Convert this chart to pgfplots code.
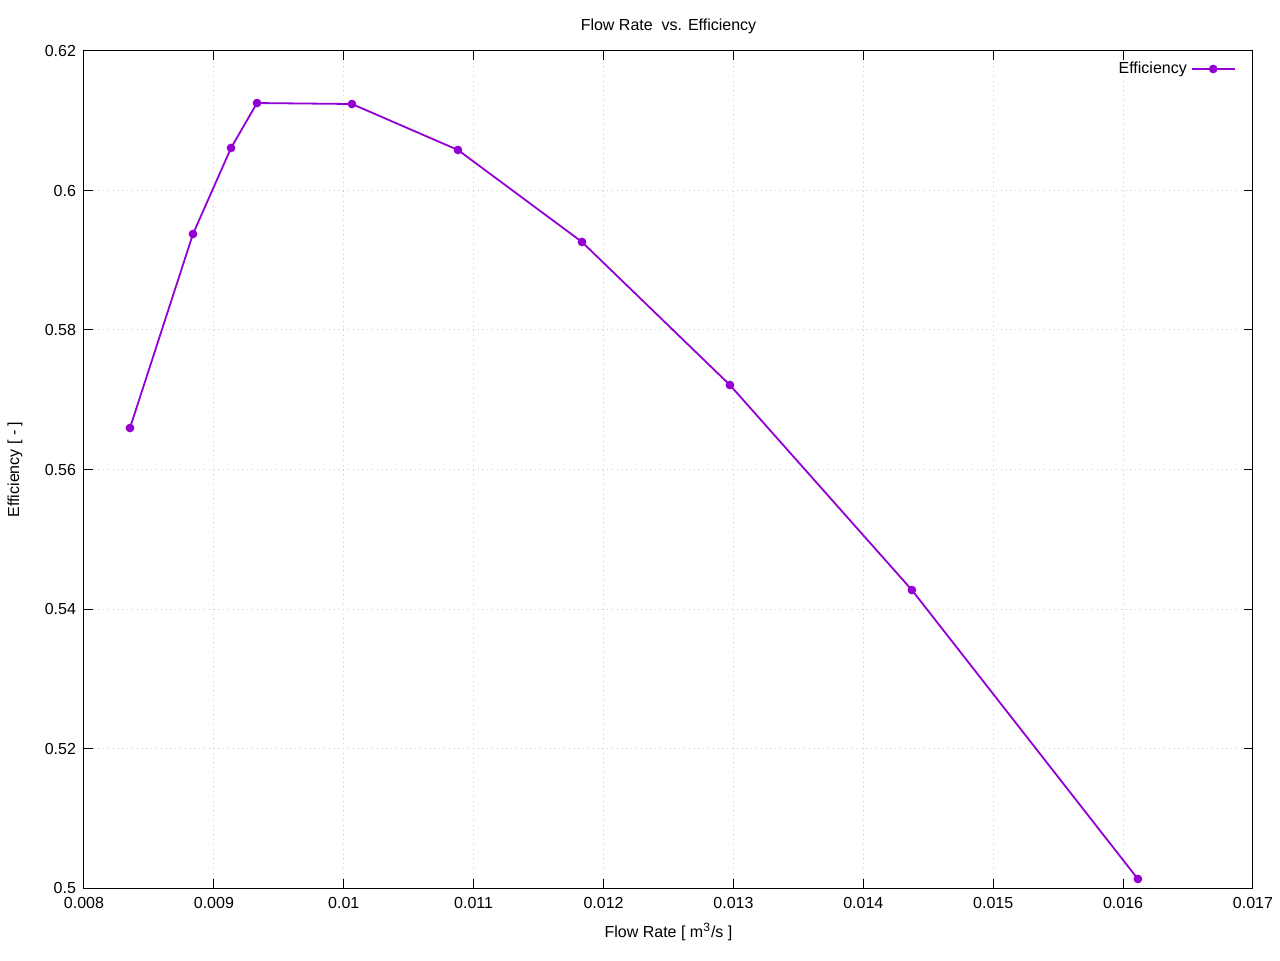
\documentclass[border=0pt]{standalone}
\usepackage{pgfplots}
\pgfplotsset{compat=1.18}
\usepackage{fontspec}
\setmainfont{Liberation Sans}
\definecolor{gpviolet}{HTML}{9400D3}
\begin{document}
\begin{tikzpicture}[x=1pt,y=1pt]
\path (0,0) rectangle (640,480);
\begin{axis}[
  at={(42pt,36pt)}, anchor=south west,
  scale only axis, width=584.5pt, height=418.5pt,
  xmin=0.008, xmax=0.017, ymin=0.5, ymax=0.62,
  xtick={0.008,0.009,0.010,0.011,0.012,0.013,0.014,0.015,0.016,0.017},
  xticklabels={0.008,0.009,0.01,0.011,0.012,0.013,0.014,0.015,0.016,0.017},
  ytick={0.5,0.52,0.54,0.56,0.58,0.6,0.62},
  yticklabels={0.5,0.52,0.54,0.56,0.58,0.6,0.62},
  scaled ticks=false,
  tick align=inside, tick pos=both,
  major tick length=4.5pt,
  every tick/.style={black, line width=0.5pt},
  axis line style={black, line width=0.5pt},
  grid=major,
  major grid style={gray!40, dotted, line width=0.5pt},
  tick label style={font=\fontsize{8}{9}\selectfont},
  xticklabel style={yshift=-1pt},
  yticklabel style={xshift=-0.5pt},
  label style={font=\fontsize{8}{9}\selectfont},
  every axis title shift=0pt,
  title style={font=\fontsize{8}{9}\selectfont, at={(axis description cs:0.5,1.0299)}, anchor=center},
  title={Flow Rate\ \ vs. Efficiency},
  xlabel={Flow Rate [ m\textsuperscript{3}/s ]},
  ylabel={Efficiency [ - ]},
  xlabel style={at={(axis description cs:0.5,-0.0526)}, anchor=center},
  ylabel style={at={(axis description cs:-0.059,0.5)}, anchor=center},
  legend style={draw=none, fill=none, font=\fontsize{8}{9}\selectfont, at={(axis description cs:0.9855,0.9785)}, anchor=east, inner sep=0pt},
  legend cell align=right,
  legend plot pos=right,
  legend image code/.code={\draw[mark repeat=2,mark phase=2,#1] plot coordinates {(0pt,0pt) (10.75pt,0pt) (21.5pt,0pt)};},
]
\addplot[gpviolet, line width=0.9pt, mark=*, mark size=1.7pt, mark options={fill=gpviolet, draw=gpviolet}] coordinates {
(0.008354,0.56595)
(0.008839,0.59376)
(0.009132,0.60610)
(0.009332,0.61254)
(0.010063,0.61240)
(0.010879,0.60581)
(0.011834,0.59262)
(0.012973,0.57211)
(0.014374,0.54272)
(0.016114,0.50129)
};
\addlegendentry{Efficiency}
\end{axis}
\end{tikzpicture}
\end{document}
